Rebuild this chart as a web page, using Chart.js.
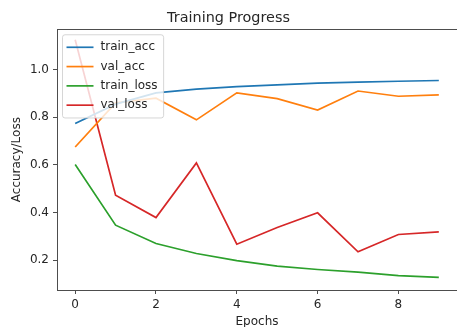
<!doctype html>
<html lang="en">
<head>
<meta charset="utf-8">
<title>Training Progress</title>
<style>
  html, body { margin: 0; padding: 0; background: #fff; }
  #chartContainer { width: 457px; height: 327px; }
</style>
</head>
<body>
<div id="chartContainer">
  <canvas id="myChart"></canvas>
</div>
<script src="https://cdn.jsdelivr.net/npm/chart.js"></script>
<script>
// values
var epochs    = [0, 1, 2, 3, 4, 5, 6, 7, 8, 9];
var trainAcc  = [0.774, 0.855, 0.902, 0.918, 0.928, 0.936, 0.943, 0.947, 0.951, 0.954];
var valAcc    = [0.675, 0.860, 0.880, 0.789, 0.902, 0.878, 0.830, 0.910, 0.888, 0.894];
var trainLoss = [0.602, 0.347, 0.270, 0.228, 0.198, 0.175, 0.161, 0.150, 0.135, 0.128];
var valLoss   = [1.125, 0.473, 0.379, 0.608, 0.267, 0.337, 0.399, 0.235, 0.308, 0.319];
var xTicks = [0, 2, 4, 6, 8];
var yTicks = [0.2, 0.4, 0.6, 0.8, 1.0];

var FONT = "'DejaVu Sans', sans-serif";
var TEXT = '#262626';
var SPINE = '#4d4d4d';

function pts(vals) {
  return epochs.map(function (e, i) { return { x: e, y: vals[i] }; });
}

function series(label, vals, color) {
  return {
    label: label,
    data: pts(vals),
    borderColor: color,
    backgroundColor: color,
    borderWidth: 1.7,
    pointRadius: 0,
    tension: 0,
    fill: false
  };
}

// top spine + matplotlib style legend inside the axes
var boxPlugin = {
  id: 'boxAndLegend',
  afterDatasetsDraw: function (chart) {
    var ctx = chart.ctx;
    var a = chart.chartArea;
    ctx.save();
    ctx.strokeStyle = SPINE;
    ctx.lineWidth = 1;
    ctx.beginPath();
    ctx.moveTo(a.left, Math.round(a.top) + 0.5);
    ctx.lineTo(a.right, Math.round(a.top) + 0.5);
    ctx.stroke();

    // legend
    ctx.font = '12px ' + FONT;
    var sets = chart.data.datasets;
    var maxW = 0;
    sets.forEach(function (d) { maxW = Math.max(maxW, ctx.measureText(d.label).width); });
    var bx = a.left + 5.5, by = a.top + 5.5;
    var rowH = 19.3;
    var bw = 37 + maxW + 7, bh = sets.length * rowH + 6;
    var r = 2.5;
    ctx.beginPath();
    ctx.moveTo(bx + r, by);
    ctx.lineTo(bx + bw - r, by);
    ctx.arcTo(bx + bw, by, bx + bw, by + r, r);
    ctx.lineTo(bx + bw, by + bh - r);
    ctx.arcTo(bx + bw, by + bh, bx + bw - r, by + bh, r);
    ctx.lineTo(bx + r, by + bh);
    ctx.arcTo(bx, by + bh, bx, by + bh - r, r);
    ctx.lineTo(bx, by + r);
    ctx.arcTo(bx, by, bx + r, by, r);
    ctx.closePath();
    ctx.fillStyle = 'rgba(255,255,255,0.8)';
    ctx.fill();
    ctx.strokeStyle = 'rgba(204,204,204,0.8)';
    ctx.stroke();

    ctx.textBaseline = 'middle';
    ctx.textAlign = 'left';
    sets.forEach(function (d, i) {
      var y = by + 12.5 + i * rowH;
      ctx.strokeStyle = d.borderColor;
      ctx.lineWidth = 1.7;
      ctx.beginPath();
      ctx.moveTo(bx + 4, y);
      ctx.lineTo(bx + 31, y);
      ctx.stroke();
      ctx.fillStyle = TEXT;
      ctx.fillText(d.label, bx + 38, y);
    });
    ctx.restore();
  }
};

var config = {
  type: 'line',
  data: {
    datasets: [
      series('train_acc', trainAcc, '#1f77b4'),
      series('val_acc', valAcc, '#ff7f0e'),
      series('train_loss', trainLoss, '#2ca02c'),
      series('val_loss', valLoss, '#d62728')
    ]
  },
  options: {
    responsive: true,
    maintainAspectRatio: false,
    animation: false,
    layout: { padding: 0 },
    plugins: {
      legend: { display: false },
      tooltip: { enabled: false },
      title: {
        display: true,
        text: 'Training Progress',
        color: TEXT,
        font: { family: FONT, size: 14.4, weight: 'normal' },
        padding: { top: 10, bottom: 2 }
      }
    },
    scales: {
      x: {
        type: 'linear',
        min: -0.45,
        max: 9.45,
        afterBuildTicks: function (s) { s.ticks = xTicks.map(function (v) { return { value: v }; }); },
        afterFit: function (s) { s.height = 37; },
        grid: { display: true, drawOnChartArea: false, drawTicks: true, tickLength: 4, color: SPINE },
        border: { display: true, color: SPINE, width: 1 },
        ticks: { color: TEXT, padding: 4, font: { family: FONT, size: 12 } },
        title: {
          display: true,
          text: 'Epochs',
          color: TEXT,
          font: { family: FONT, size: 12 },
          padding: { top: 0, bottom: -2 }
        }
      },
      y: {
        type: 'linear',
        min: 0.075,
        max: 1.169,
        afterBuildTicks: function (s) { s.ticks = yTicks.map(function (v) { return { value: v }; }); },
        afterFit: function (s) { s.width = 57; },
        grid: { display: true, drawOnChartArea: false, drawTicks: true, tickLength: 4, color: SPINE },
        border: { display: true, color: SPINE, width: 1 },
        ticks: {
          color: TEXT,
          padding: 4,
          font: { family: FONT, size: 12 },
          callback: function (v) { return v.toFixed(1); }
        },
        title: {
          display: true,
          text: 'Accuracy/Loss',
          color: TEXT,
          font: { family: FONT, size: 12 },
          padding: { top: 10, bottom: 0 }
        }
      }
    }
  },
  plugins: [boxPlugin]
};

var myChart = new Chart(document.getElementById('myChart'), config);
</script>
</body>
</html>
